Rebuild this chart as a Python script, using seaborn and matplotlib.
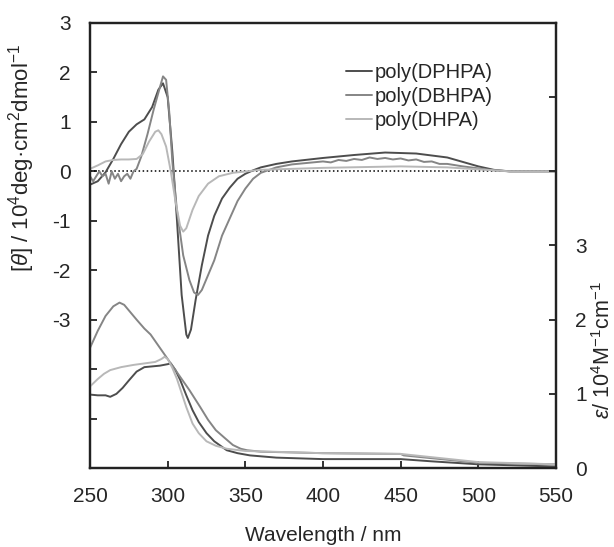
import matplotlib
matplotlib.use("Agg")
import matplotlib.pyplot as plt
import seaborn as sns

# CD spectra, [theta] / 10^4 deg cm2 dmol-1
cd_dphpa_wl = [250, 255, 260, 265, 270, 275, 280, 285, 290, 294, 297, 300, 303, 306, 309, 312, 313,
               315, 318, 322, 326, 330, 335, 340, 345, 350, 355, 360, 370, 380, 400, 420, 440, 460,
               480, 500, 510, 520, 550]
cd_dphpa = [-0.27, -0.2, -0.02, 0.25, 0.55, 0.8, 0.95, 1.05, 1.3, 1.65, 1.78, 1.5, 0.4, -1.0, -2.5,
            -3.3, -3.37, -3.2, -2.6, -1.9, -1.3, -0.9, -0.55, -0.33, -0.15, -0.05, 0.02, 0.08, 0.15,
            0.2, 0.27, 0.33, 0.38, 0.36, 0.28, 0.1, 0.03, 0.0, 0.0]

cd_dbhpa_wl = [250, 252, 254, 256, 258, 260, 262, 264, 266, 268, 270, 272, 274, 276, 278, 280, 283,
               287, 291, 295, 297, 299, 301, 303, 306, 310, 314, 317, 319.5, 322, 326, 330, 335, 340,
               345, 350, 355, 360, 370, 380, 390, 400, 405, 410, 415, 420, 425, 430, 435, 440, 445,
               450, 455, 460, 465, 470, 475, 480, 490, 500, 510, 520, 550]
cd_dbhpa = [-0.1, -0.2, -0.1, 0.0, -0.1, -0.05, -0.25, 0.0, -0.15, -0.05, -0.2, -0.1, -0.05, -0.15,
            0.0, 0.05, 0.3, 0.75, 1.25, 1.7, 1.92, 1.85, 1.2, 0.2, -0.8, -1.7, -2.2, -2.45, -2.5,
            -2.4, -2.1, -1.8, -1.3, -0.95, -0.6, -0.35, -0.15, -0.03, 0.08, 0.14, 0.17, 0.2, 0.18,
            0.23, 0.21, 0.25, 0.23, 0.28, 0.25, 0.27, 0.24, 0.26, 0.22, 0.24, 0.19, 0.2, 0.15, 0.15,
            0.1, 0.06, 0.02, 0.0, 0.0]

cd_dhpa_wl = [250, 255, 260, 265, 270, 275, 280, 284, 288, 292, 294, 296, 299, 302, 305, 308, 310,
              312, 316, 320, 326, 333, 342, 360, 400, 450, 480, 500, 520, 550]
cd_dhpa = [0.05, 0.12, 0.2, 0.23, 0.24, 0.24, 0.25, 0.35, 0.6, 0.8, 0.83, 0.75, 0.5, 0.0, -0.6, -1.1,
           -1.22, -1.15, -0.78, -0.5, -0.25, -0.1, -0.03, 0.03, 0.07, 0.1, 0.08, 0.04, 0.0, 0.0]

# UV-vis spectra, epsilon / 10^4 M-1 cm-1
uv_dphpa_wl = [250, 255, 260, 263, 267, 271, 275, 280, 285, 290, 295, 300, 302, 305, 308, 312, 316,
               320, 325, 330, 338, 345, 353, 370, 400, 450, 470, 500, 550]
uv_dphpa = [0.99, 0.98, 0.98, 0.96, 1.0, 1.08, 1.18, 1.3, 1.36, 1.37, 1.38, 1.4, 1.41, 1.32, 1.19,
            0.98, 0.78, 0.62, 0.47, 0.36, 0.24, 0.2, 0.17, 0.14, 0.12, 0.12, 0.09, 0.05, 0.02]

uv_dbhpa_wl = [250, 255, 260, 265, 269, 272, 276, 280, 285, 289, 294, 299, 304, 308, 314, 321, 326,
               331, 337, 342, 347, 351, 360, 400, 450, 452, 500, 550]
uv_dbhpa = [1.62, 1.85, 2.05, 2.18, 2.23, 2.2, 2.1, 2.0, 1.88, 1.8, 1.65, 1.5, 1.35, 1.23, 1.05, 0.82,
            0.65, 0.51, 0.4, 0.31, 0.26, 0.24, 0.22, 0.2, 0.19, 0.17, 0.07, 0.05]

uv_dhpa_wl = [250, 255, 259, 263, 270, 278, 285, 292, 296, 298, 300, 303, 306, 309, 312, 316, 320,
              325, 331, 338, 350, 400, 450, 500, 550]
uv_dhpa = [1.1, 1.2, 1.27, 1.32, 1.36, 1.39, 1.41, 1.43, 1.47, 1.5, 1.47, 1.35, 1.2, 1.01, 0.82, 0.6,
           0.47, 0.36, 0.3, 0.26, 0.23, 0.2, 0.19, 0.08, 0.05]

labels = ["poly(DPHPA)", "poly(DBHPA)", "poly(DHPA)"]
colors = ["#4d4d4d", "#858585", "#b8b8b8"]

sns.set_style("ticks")
plt.rcParams["font.family"] = ["Liberation Sans", "DejaVu Sans"]
plt.rcParams["mathtext.fontset"] = "custom"
plt.rcParams["mathtext.rm"] = "Liberation Sans"
plt.rcParams["mathtext.it"] = "Liberation Sans:italic"

fig = plt.figure(figsize=(6.14, 5.47), dpi=100)
ax = fig.add_axes([0.1466, 0.1444, 0.7589, 0.8136])
ax2 = ax.twinx()

cd_sets = [(cd_dphpa_wl, cd_dphpa), (cd_dbhpa_wl, cd_dbhpa), (cd_dhpa_wl, cd_dhpa)]
uv_sets = [(uv_dphpa_wl, uv_dphpa), (uv_dbhpa_wl, uv_dbhpa), (uv_dhpa_wl, uv_dhpa)]

ax.axhline(0, color="black", linestyle=":", linewidth=1.1, zorder=1)
for (wl, y), lab, c in zip(cd_sets, labels, colors):
    sns.lineplot(x=wl, y=y, ax=ax, color=c, linewidth=1.4, label=lab, sort=False)
for (wl, y), c in zip(uv_sets, colors):
    sns.lineplot(x=wl, y=y, ax=ax2, color=c, linewidth=1.4, sort=False)

ax.set_xlim(250, 550)
ax.set_ylim(-6, 3)
ax2.set_ylim(0, 6)
ax.set_xticks([250, 300, 350, 400, 450, 500, 550])
ax.set_yticks([-6, -5, -4, -3, -2, -1, 0, 1, 2, 3])
ax.set_yticklabels(["", "", "", "-3", "-2", "-1", "0", "1", "2", "3"])
ax2.set_yticks([0, 1, 2, 3, 4, 5, 6])
ax2.set_yticklabels(["0", "1", "2", "3", "", "", ""])

for a in (ax, ax2):
    a.tick_params(direction="in", length=5, width=1.3, labelsize=15, pad=14, color="#222222")
    for s in a.spines.values():
        s.set_linewidth(1.6)
        s.set_color("#222222")

ax.set_xlabel("Wavelength / nm", fontsize=15, labelpad=14)
ax.set_ylabel(r"$\mathit{[\theta]}$ / 10$^4$deg·cm$^2$dmol$^{-1}$", fontsize=16)
ax.yaxis.set_label_coords(-0.113, 0.697)
ax2.set_ylabel(r"$\mathit{\varepsilon}$/ 10$^4$M$^{-1}$cm$^{-1}$", fontsize=15.5)
ax2.yaxis.set_label_coords(1.077, 0.265)

ax.legend(loc="upper left", bbox_to_anchor=(0.55, 0.91), frameon=False, fontsize=14.5,
          handlelength=1.3, handletextpad=0.1, labelspacing=0.25, borderpad=0, borderaxespad=0)

fig.savefig("out.png", dpi=100)
